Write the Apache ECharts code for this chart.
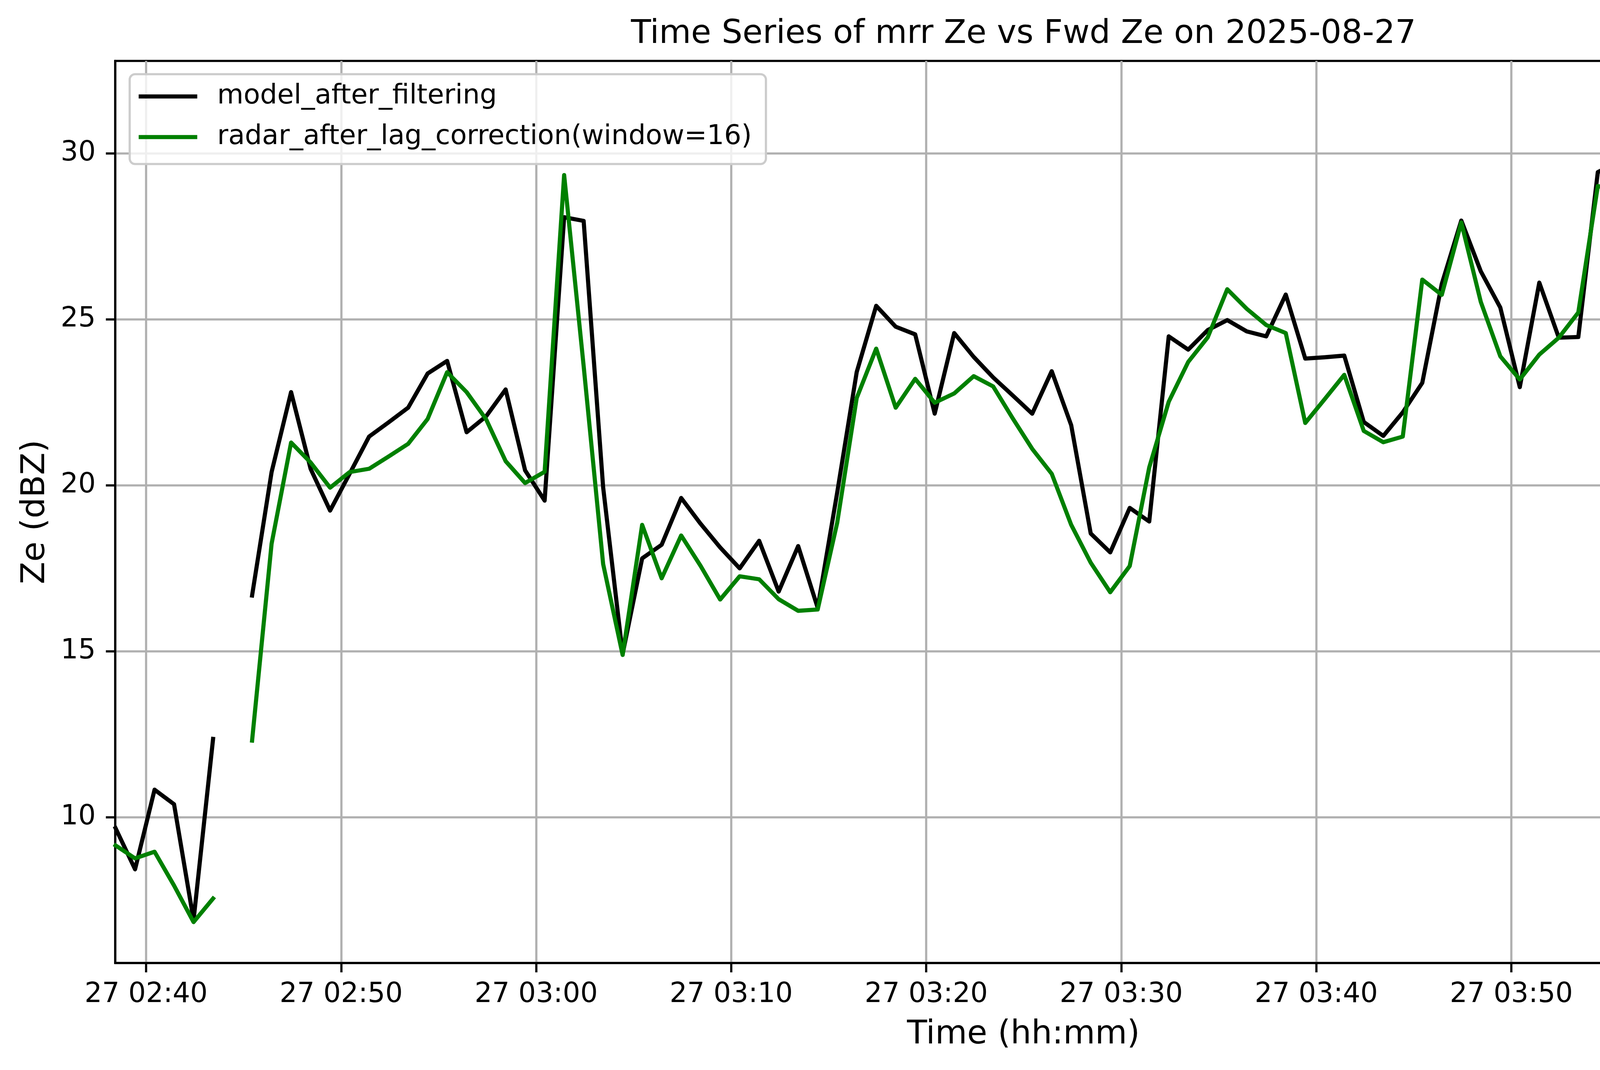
<!DOCTYPE html>
<html>
<head>
<meta charset="utf-8">
<title>mrr Ze vs Fwd Ze</title>
<script src="https://cdn.jsdelivr.net/npm/echarts@6/dist/echarts.min.js"></script>
<style>
  html, body { margin: 0; padding: 0; background: #fff; }
  #chart { width: 5073px; height: 2740px; }
</style>
</head>
<body>
<div id="chart"></div>
<script>
// sample times on 2025-08-27 (UTC)
var times = [
  '02:38:26', '02:39:26', '02:40:26', '02:41:26', '02:42:26', '02:43:26', '02:44:26', '02:45:26', '02:46:26', '02:47:26',
  '02:48:26', '02:49:26', '02:50:26', '02:51:26', '02:52:26', '02:53:26', '02:54:26', '02:55:26', '02:56:26', '02:57:26',
  '02:58:26', '02:59:26', '03:00:26', '03:01:26', '03:02:26', '03:03:26', '03:04:26', '03:05:26', '03:06:26', '03:07:26',
  '03:08:26', '03:09:26', '03:10:26', '03:11:26', '03:12:26', '03:13:26', '03:14:26', '03:15:26', '03:16:26', '03:17:26',
  '03:18:26', '03:19:26', '03:20:26', '03:21:26', '03:22:26', '03:23:26', '03:24:26', '03:25:26', '03:26:26', '03:27:26',
  '03:28:26', '03:29:26', '03:30:26', '03:31:26', '03:32:26', '03:33:26', '03:34:26', '03:35:26', '03:36:26', '03:37:26',
  '03:38:26', '03:39:26', '03:40:26', '03:41:26', '03:42:26', '03:43:26', '03:44:26', '03:45:26', '03:46:26', '03:47:26',
  '03:48:26', '03:49:26', '03:50:26', '03:51:26', '03:52:26', '03:53:26', '03:54:26', '03:55:26', '03:56:26', '03:57:26',
  '03:58:26', '03:59:26', '04:00:26', '04:01:26', '04:02:26', '04:03:26', '04:04:26', '04:05:26', '04:06:26', '04:07:26',
  '04:08:26', '04:09:26', '04:10:26', '04:11:26'
];

var modelZe = [
  9.67, 8.43, 10.83, 10.39, 6.9, 12.36, null, 16.68, 20.40, 22.81,
  20.50, 19.24, 20.35, 21.47, 21.9, 22.34, 23.37, 23.75, 21.60, 22.08,
  22.89, 20.45, 19.54, 28.08, 27.97, 19.94, 14.92, 17.80, 18.21, 19.62,
  18.84, 18.13, 17.50, 18.33, 16.80, 18.17, 16.31, 19.78, 23.41, 25.41,
  24.78, 24.55, 22.16, 24.59, 23.87, 23.25, 22.71, 22.16, 23.44, 21.81,
  18.55, 17.98, 19.32, 18.91, 24.49, 24.09, 24.68, 24.98, 24.64, 24.49,
  25.75, 23.82, 23.86, 23.91, 21.91, 21.49, 22.20, 23.09, 26.07, 27.98,
  26.45, 25.36, 22.96, 26.11, 24.45, 24.47, 29.44, 29.73, 30.15, 30.51,
  29.03, 31.55, 27.61, 28.60, 27.45, 26.85, 25.47, 22.68, 21.39, 21.21,
  23.98, 20.81, 29.19, 29.10
];

var radarZe = [
  9.15, 8.76, 8.96, 7.94, 6.84, 7.55, null, 12.31, 18.24, 21.29,
  20.69, 19.93, 20.40, 20.50, 20.87, 21.25, 22.00, 23.41, 22.81, 21.99,
  20.73, 20.07, 20.41, 29.35, 23.6, 17.63, 14.89, 18.81, 17.20, 18.49,
  17.57, 16.56, 17.26, 17.17, 16.57, 16.22, 16.26, 18.87, 22.63, 24.12,
  22.34, 23.21, 22.49, 22.77, 23.29, 22.98, 22.02, 21.10, 20.35, 18.81,
  17.67, 16.78, 17.57, 20.54, 22.52, 23.72, 24.46, 25.91, 25.32, 24.83,
  24.59, 21.88, 22.60, 23.33, 21.64, 21.30, 21.47, 26.20, 25.74, 27.92,
  25.53, 23.89, 23.19, 23.94, 24.45, 25.21, 29.02, 28.89, 28.37, 27.88,
  30.13, 30.04, 29.28, 29.33, 27.45, 25.47, 23.49, 21.48, 20.58, 20.27,
  22.18, 22.59, 30.72, 27.32
];

var xTicks = ['02:40', '02:50', '03:00', '03:10', '03:20', '03:30', '03:40', '03:50', '04:00', '04:10'];
var yTicks = [10, 15, 20, 25, 30];

function toTs(hms) {
    var p = hms.split(':');
    return Date.UTC(2025, 7, 27, +p[0], +p[1], p.length > 2 ? +p[2] : 0);
}

function pad(n) {
    return (n < 10 ? '0' : '') + n;
}

function pairs(values) {
    return times.map(function (t, i) {
        return [toTs(t), values[i]];
    });
}

var font = 'DejaVu Sans';
var chart = echarts.init(document.getElementById('chart'), null, {renderer: 'canvas'});

var option = {
    animation: false,
    backgroundColor: '#ffffff',
    title: {
        text: 'Time Series of mrr Ze vs Fwd Ze on 2025-08-27',
        left: 2620,
        top: 46,
        padding: 0,
        textAlign: 'center',
        textStyle: {fontFamily: font, fontSize: 84, fontWeight: 'normal', color: '#000', lineHeight: 84}
    },
    legend: {
        orient: 'vertical',
        left: 332,
        top: 190,
        padding: [17, 36, 29, 23],
        itemWidth: 150,
        itemHeight: 10.6,
        itemGap: 24,
        icon: 'rect',
        backgroundColor: 'rgba(255,255,255,0.8)',
        borderColor: '#cccccc',
        borderWidth: 5.6,
        borderRadius: 14,
        textStyle: {fontFamily: font, fontSize: 69.2, lineHeight: 80, color: '#000', padding: [0, 0, 0, 46]},
        data: ['model_after_filtering', 'radar_after_lag_correction(window=16)']
    },
    grid: {
        left: 295,
        right: 128,
        top: 156,
        bottom: 274,
        show: true,
        borderColor: '#000',
        borderWidth: 5.6,
        backgroundColor: 'transparent'
    },
    xAxis: {
        type: 'value',
        min: toTs('02:38:25'),
        max: toTs('04:11:33'),
        name: 'Time (hh:mm)',
        nameLocation: 'middle',
        nameGap: 142,
        nameTextStyle: {fontFamily: font, fontSize: 84, color: '#000', lineHeight: 84},
        axisLine: {show: true, lineStyle: {color: '#000', width: 5.6}},
        axisTick: {show: true, inside: false, length: 24, lineStyle: {color: '#000', width: 5.6},
            customValues: xTicks.map(toTs)},
        axisLabel: {
            show: true,
            margin: 46,
            fontFamily: font,
            fontSize: 70.5,
            lineHeight: 70.5,
            color: '#000',
            customValues: xTicks.map(toTs),
            formatter: function (v) {
                var d = new Date(v);
                return '27 ' + pad(d.getUTCHours()) + ':' + pad(d.getUTCMinutes());
            }
        },
        splitLine: {show: true, lineStyle: {color: '#b0b0b0', width: 5.6}}
    },
    yAxis: {
        type: 'value',
        min: 5.607,
        max: 32.79,
        name: 'Ze (dBZ)',
        nameLocation: 'middle',
        nameGap: 162,
        nameRotate: 90,
        nameTextStyle: {fontFamily: font, fontSize: 84, color: '#000', lineHeight: 84},
        axisLine: {show: true, lineStyle: {color: '#000', width: 5.6}},
        axisTick: {show: true, inside: false, length: 24, lineStyle: {color: '#000', width: 5.6},
            customValues: yTicks},
        axisLabel: {
            show: true,
            margin: 50,
            fontFamily: font,
            fontSize: 70.5,
            lineHeight: 70.5,
            color: '#000',
            customValues: yTicks
        },
        splitLine: {show: true, lineStyle: {color: '#b0b0b0', width: 5.6}}
    },
    series: [
        {
            name: 'model_after_filtering',
            type: 'line',
            showSymbol: false,
            symbol: 'none',
            color: '#000000',
            lineStyle: {color: '#000000', width: 10.6, join: 'round', cap: 'square'},
            data: pairs(modelZe)
        },
        {
            name: 'radar_after_lag_correction(window=16)',
            type: 'line',
            showSymbol: false,
            symbol: 'none',
            color: '#008000',
            lineStyle: {color: '#008000', width: 10.6, join: 'round', cap: 'square'},
            data: pairs(radarZe)
        }
    ]
};

chart.setOption(option);
</script>
</body>
</html>
